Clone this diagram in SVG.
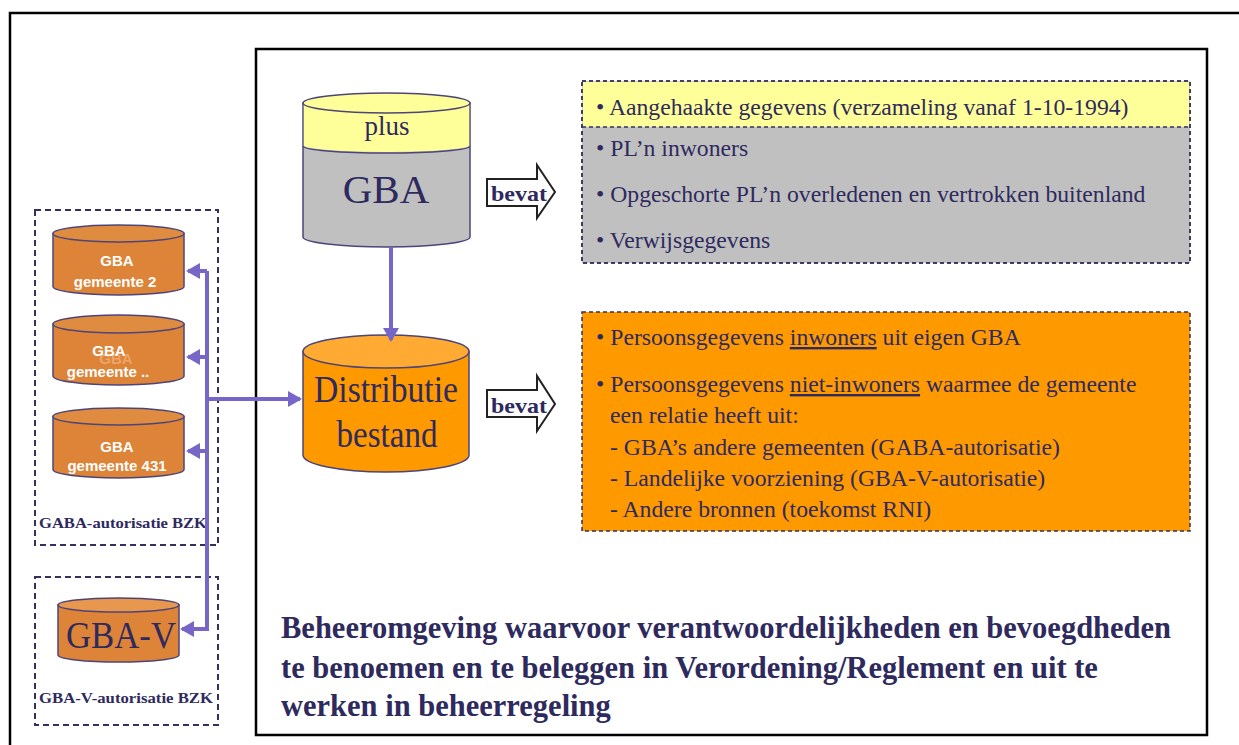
<svg xmlns="http://www.w3.org/2000/svg" width="1239" height="745" viewBox="0 0 1239 745">
<style>
.frame{fill:none;stroke:#000;stroke-width:2.5}
.dbox{fill:none;stroke:#33305e;stroke-width:2;stroke-dasharray:6 4}
.rbox{stroke:#33305e;stroke-width:1.5;stroke-dasharray:4 3}
.cyl{stroke:#4d4578;stroke-width:1.5}
.conn{fill:none;stroke:#7766c8;stroke-width:4}
.t{font-family:"Liberation Serif","Times New Roman",serif;fill:#2e2a5e}
.s{font-family:"Liberation Sans",Arial,sans-serif;font-weight:bold;fill:#fff;font-size:15px;text-anchor:middle}
.lbl{font-family:"Liberation Serif","Times New Roman",serif;font-weight:bold;fill:#2e2a5e;font-size:14px}
.item{font-size:23.7px}
.big{font-size:30.5px;font-weight:bold}
.bev{fill:#fff;stroke:#222;stroke-width:2}
</style>
<defs>
<marker id="ah" markerWidth="3.5" markerHeight="4" refX="3" refY="2" orient="auto" markerUnits="strokeWidth">
<path d="M0,0 L3.5,2 L0,4 Z" fill="#7766c8"/>
</marker>
</defs>
<rect class="frame" x="10" y="13" width="1240" height="745"/>
<rect class="frame" x="256" y="49" width="951" height="686"/>

<g id="gaba-box">
<rect class="dbox" x="35" y="210" width="183" height="335"/>
<text class="lbl" x="39" y="528" textLength="168" lengthAdjust="spacingAndGlyphs">GABA-autorisatie BZK</text>
</g>
<g id="gbav-box">
<rect class="dbox" x="35" y="577" width="183" height="148"/>
<text class="lbl" x="39" y="703" textLength="174" lengthAdjust="spacingAndGlyphs">GBA-V-autorisatie BZK</text>
</g>

<g id="gba-gemeente-2">
<path class="cyl" fill="#dd8438" d="M53,233.5 L53,286.5 A65.5,8.5 0 0 0 184,286.5 L184,233.5 Z"/>
<ellipse class="cyl" fill="#e08c40" cx="118.5" cy="233.5" rx="65.5" ry="8.5"/>
<text class="s" x="117" y="266">GBA</text>
<text class="s" x="115" y="287">gemeente 2</text>
</g>
<g id="gba-gemeente-dots">
<path class="cyl" fill="#dd8438" d="M53,324 L53,376 A65.5,9 0 0 0 184,376 L184,324 Z"/>
<ellipse class="cyl" fill="#e08c40" cx="118.5" cy="324" rx="65.5" ry="9"/>
<text class="s" x="116" y="364" style="fill:#eda56a">GBA</text>
<text class="s" x="109" y="356">GBA</text>
<text class="s" x="108" y="377">gemeente ..</text>
</g>
<g id="gba-gemeente-431">
<path class="cyl" fill="#dd8438" d="M53,416.5 L53,469.5 A65.5,8.5 0 0 0 184,469.5 L184,416.5 Z"/>
<ellipse class="cyl" fill="#e08c40" cx="118.5" cy="416.5" rx="65.5" ry="8.5"/>
<text class="s" x="117" y="452">GBA</text>
<text class="s" x="117" y="471">gemeente 431</text>
</g>
<g id="gba-v">
<path class="cyl" fill="#dd8438" d="M58,605 L58,655 A60.5,7 0 0 0 179,655 L179,605 Z"/>
<ellipse class="cyl" fill="#e8984e" cx="118.5" cy="605" rx="60.5" ry="7"/>
<text class="t" x="121" y="648" font-size="38" text-anchor="middle" textLength="110" lengthAdjust="spacingAndGlyphs">GBA-V</text>
</g>

<g id="gba">
<path class="cyl" fill="#c0c0c0" d="M303,103 L303,237 A83.5,10 0 0 0 470,237 L470,103 Z"/>
<path fill="#ffff99" d="M303.8,103 L303.8,146 A83.5,7 0 0 0 469.2,146 L469.2,103 Z"/>
<path fill="none" stroke="#4d4578" stroke-width="1.5" d="M303,146 A83.5,7 0 0 0 470,146"/>
<ellipse class="cyl" fill="#ffff99" cx="386.5" cy="103" rx="83.5" ry="10"/>
<text class="t" x="387" y="135" font-size="27" text-anchor="middle">plus</text>
<text class="t" x="386" y="203" font-size="41" text-anchor="middle">GBA</text>
</g>

<g id="distributie">
<path class="cyl" fill="#ff9900" d="M303,351.5 L303,455 A83,17 0 0 0 469,455 L469,351.5 Z"/>
<ellipse class="cyl" fill="#ffaa33" cx="386" cy="351.5" rx="83" ry="16.5"/>
<text class="t" x="386" y="402" font-size="37" text-anchor="middle" textLength="144" lengthAdjust="spacingAndGlyphs">Distributie</text>
<text class="t" x="387" y="447" font-size="37" text-anchor="middle" textLength="101" lengthAdjust="spacingAndGlyphs">bestand</text>
</g>

<g id="bevat-1">
<path class="bev" d="M487,179 L537,179 L537,165 L555,192 L537,218 L537,206 L487,206 Z"/>
<text class="t" x="491" y="201" font-size="22" font-weight="bold" textLength="56" lengthAdjust="spacingAndGlyphs">bevat</text>
</g>
<g id="bevat-2">
<path class="bev" d="M487,390 L537,390 L537,376 L555,404 L537,431 L537,417 L487,417 Z"/>
<text class="t" x="491" y="413" font-size="22" font-weight="bold" textLength="56" lengthAdjust="spacingAndGlyphs">bevat</text>
</g>

<g id="gba-inhoud">
<rect class="rbox" x="582" y="81" width="608" height="182" fill="#c0c0c0"/>
<rect x="582.8" y="81.8" width="606.4" height="45" fill="#ffff99"/>
<line x1="582" y1="127" x2="1190" y2="127" class="rbox"/>
<rect class="rbox" x="582" y="81" width="608" height="182" fill="none"/>
<text class="t item" x="596" y="115">• Aangehaakte gegevens (verzameling vanaf 1-10-1994)</text>
<text class="t item" x="596" y="156">• PL’n inwoners</text>
<text class="t item" x="596" y="202">• Opgeschorte PL’n overledenen en vertrokken buitenland</text>
<text class="t item" x="596" y="248">• Verwijsgegevens</text>
</g>

<g id="distributie-inhoud">
<rect class="rbox" x="582" y="312" width="608" height="219" fill="#ff9900"/>
<text class="t item" x="596" y="345">• Persoonsgegevens <tspan text-decoration="underline">inwoners</tspan> uit eigen GBA</text>
<text class="t item" x="596" y="392">• Persoonsgegevens <tspan text-decoration="underline">niet-inwoners</tspan> waarmee de gemeente</text>
<text class="t item" x="610" y="423">een relatie heeft uit:</text>
<text class="t item" x="610" y="455">- GBA’s andere gemeenten (GABA-autorisatie)</text>
<text class="t item" x="610" y="486">- Landelijke voorziening (GBA-V-autorisatie)</text>
<text class="t item" x="610" y="517">- Andere bronnen (toekomst RNI)</text>
</g>

<g id="beheer-tekst">
<text class="t big" x="281" y="638">Beheeromgeving waarvoor verantwoordelijkheden en bevoegdheden</text>
<text class="t big" x="281" y="678">te benoemen en te beleggen in Verordening/Reglement en uit te</text>
<text class="t big" x="281" y="716">werken in beheerregeling</text>
</g>

<g id="connectors">
<line class="conn" x1="391" y1="247" x2="391" y2="340" stroke-width="5" marker-end="url(#ah)"/>
<path class="conn" d="M207,271 L207,629"/>
<line class="conn" x1="207" y1="271" x2="188" y2="271" marker-end="url(#ah)"/>
<line class="conn" x1="207" y1="357" x2="188" y2="357" marker-end="url(#ah)"/>
<line class="conn" x1="207" y1="451" x2="188" y2="451" marker-end="url(#ah)"/>
<line class="conn" x1="209" y1="629" x2="182" y2="629" marker-end="url(#ah)"/>
<line class="conn" x1="207" y1="399" x2="300" y2="399" stroke-width="3.5" marker-end="url(#ah)"/>
</g>
</svg>
